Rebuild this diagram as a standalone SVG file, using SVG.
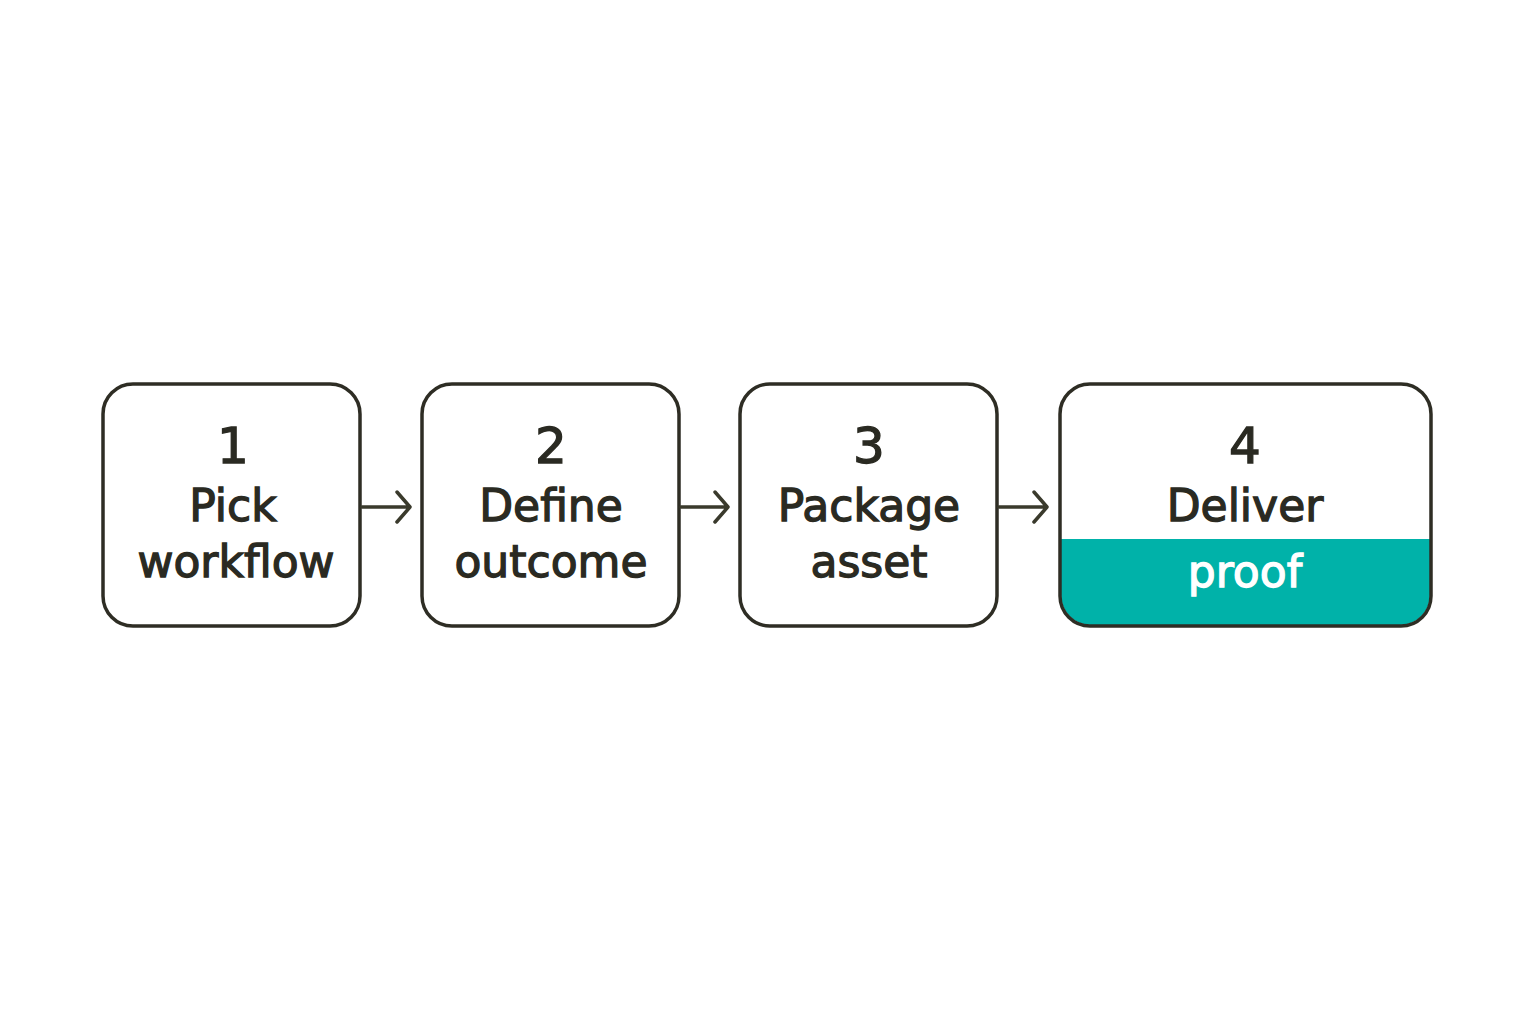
<svg xmlns="http://www.w3.org/2000/svg" width="1536" height="1024" viewBox="0 0 1536 1024">
<style>
.box{fill:#ffffff;stroke:#2e2d24;stroke-width:3.5}
.t{font-family:"DejaVu Sans",sans-serif;font-size:44px;fill:#2a2a22;stroke:#2a2a22;stroke-width:1.3;text-anchor:middle}
.n{font-size:50px}
.w{fill:#ffffff;stroke:#ffffff}
.c{fill:none;stroke:#3a3a2c;stroke-width:3.5;stroke-linecap:round;stroke-linejoin:round}
</style>
<defs>
<clipPath id="clip4"><rect x="1061" y="385" width="369" height="240" rx="30"/></clipPath>
</defs>
<rect width="1536" height="1024" fill="#ffffff"/>
<g id="node1">
<rect class="box" x="103" y="384" width="257" height="242" rx="30"/>
<text class="t n" x="233" y="463">1</text>
<text class="t" x="233" y="521">Pick</text>
<text class="t" x="236" y="577">workflow</text>
</g>
<g id="node2">
<rect class="box" x="422" y="384" width="257" height="242" rx="30"/>
<text class="t n" x="551" y="463">2</text>
<text class="t" x="551" y="521">Define</text>
<text class="t" x="551" y="577">outcome</text>
</g>
<g id="node3">
<rect class="box" x="740" y="384" width="257" height="242" rx="30"/>
<text class="t n" x="869" y="463">3</text>
<text class="t" x="869" y="521">Package</text>
<text class="t" x="869" y="577">asset</text>
</g>
<g id="node4">
<rect x="1060" y="384" width="371" height="242" rx="30" fill="#ffffff"/>
<rect x="1060" y="539" width="371" height="90" fill="#00b2a9" clip-path="url(#clip4)"/>
<rect x="1060" y="384" width="371" height="242" rx="30" fill="none" stroke="#2e2d24" stroke-width="3.5"/>
<text class="t n" x="1245" y="463">4</text>
<text class="t" x="1245" y="521">Deliver</text>
<text class="t w" x="1245" y="587">proof</text>
</g>
<g id="connectors">
<path class="c" d="M362 507 H409 M397 492 L410 507 L397 522"/>
<path class="c" d="M681 507 H727 M715 492 L728 507 L715 522"/>
<path class="c" d="M999 507 H1046 M1034 492 L1047 507 L1034 522"/>
</g>
</svg>
